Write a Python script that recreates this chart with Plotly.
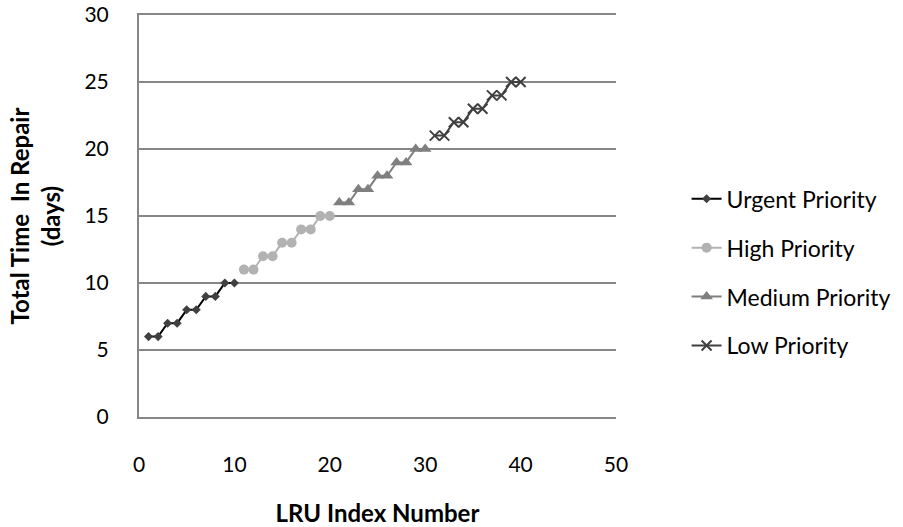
import plotly.graph_objects as go

# LRU index numbers and total repair time (days) per priority class
urgent_x = [1, 2, 3, 4, 5, 6, 7, 8, 9, 10]
urgent_y = [6, 6, 7, 7, 8, 8, 9, 9, 10, 10]
high_x = [11, 12, 13, 14, 15, 16, 17, 18, 19, 20]
high_y = [11, 11, 12, 12, 13, 13, 14, 14, 15, 15]
medium_x = [21, 22, 23, 24, 25, 26, 27, 28, 29, 30]
medium_y = [16, 16, 17, 17, 18, 18, 19, 19, 20, 20]
low_x = [31, 32, 33, 34, 35, 36, 37, 38, 39, 40]
low_y = [21, 21, 22, 22, 23, 23, 24, 24, 25, 25]

series = [
    ("Urgent Priority", urgent_x, urgent_y, "#000000", "#404040", "diamond", 7),
    ("High Priority", high_x, high_y, "#b2b2b2", "#b2b2b2", "circle", 10),
    ("Medium Priority", medium_x, medium_y, "#7f7f7f", "#7f7f7f", "triangle-up", 11),
    ("Low Priority", low_x, low_y, "#404040", "#404040", "x-thin", 10),
]

fig = go.Figure()
for name, xs, ys, lc, mc, sym, sz in series:
    marker = dict(symbol=sym, size=sz, color=mc)
    if sym == "x-thin":
        marker["line"] = dict(color=mc, width=2)
    fig.add_trace(go.Scatter(
        x=xs, y=ys, name=name, mode="lines+markers",
        line=dict(color=lc, width=2),
        marker=marker,
        legendgroup=name,
    ))

font_family = "Lato, Liberation Sans, sans-serif"

fig.update_layout(
    width=903, height=527,
    margin=dict(l=139, r=287, t=15, b=110, autoexpand=False),
    paper_bgcolor="white", plot_bgcolor="white",
    font=dict(family=font_family, size=21, color="#000000"),
    showlegend=True,
    legend=dict(
        x=1.148, y=0.36, xanchor="left", yanchor="middle",
        font=dict(size=23, color="#000000"),
        tracegroupgap=16,
        itemwidth=30,
    ),
    xaxis=dict(
        range=[0, 50], tickvals=[0, 10, 20, 30, 40, 50],
        showgrid=False, zeroline=False, automargin=False,
        showline=True, mirror=True, linecolor="#868686", linewidth=2,
        ticks="", ticklabelstandoff=28,
        title=dict(text="<b>LRU Index Number</b>", font=dict(size=24), standoff=32),
    ),
    yaxis=dict(
        range=[0, 30], tickvals=[0, 5, 10, 15, 20, 25, 30],
        showgrid=True, gridcolor="#868686", gridwidth=2,
        zeroline=False, automargin=False,
        showline=True, linecolor="#868686", linewidth=2,
        ticks="", ticklabelstandoff=24,
        title=dict(text="<b>Total Time  In Repair<br>(days)</b>", font=dict(size=24), standoff=17),
    ),
)

fig.write_html("out.html")
